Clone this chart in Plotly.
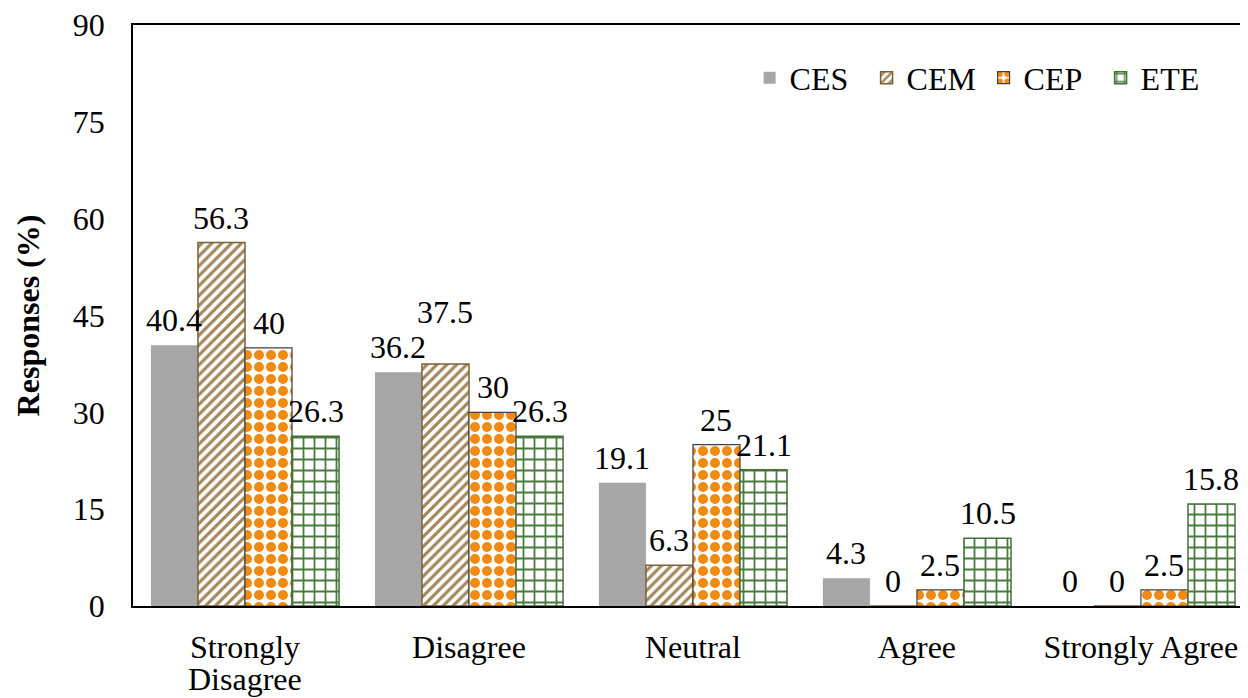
import plotly.graph_objects as go

categories = ["Strongly Disagree", "Disagree", "Neutral", "Agree", "Strongly Agree"]
ces = [40.4, 36.2, 19.1, 4.3, 0]
cem = [56.3, 37.5, 6.3, 0, 0]
cep = [40, 30, 25, 2.5, 2.5]
ete = [26.3, 26.3, 21.1, 10.5, 15.8]
y_ticks = [0, 15, 30, 45, 60, 75, 90]

FONT = "Liberation Serif, Times New Roman, serif"
FS = 32
BARGAP = 0.16
LABEL_LIFT = 25          # px between bar top and label centre
EXTRA_LIFT = {("CEM", 1): 52}  # label moved up to avoid overlapping neighbour
WRAPPED = {"Strongly Disagree": ("Strongly", "Disagree")}  # two-line category label
SECOND_LINE_DROP = 73    # px below axis for the second line (tight line spacing)

series = [
    ("CES", ces, dict(color="#A6A6A6", line=dict(color="#A6A6A6", width=0))),
    ("CEM", cem, dict(color="white", line=dict(color="#7A6038", width=1.5),
                      pattern=dict(shape="/", fgcolor="#A3865A", bgcolor="white", fgopacity=1,
                                   size=7, solidity=0.45, fillmode="replace"))),
    ("CEP", cep, dict(color="white", line=dict(color="#404040", width=1.2),
                      pattern=dict(shape=".", fgcolor="#F28A12", bgcolor="white", fgopacity=1,
                                   size=12, solidity=0.55, fillmode="replace"))),
    ("ETE", ete, dict(color="white", line=dict(color="#44703A", width=1.5),
                      pattern=dict(shape="+", fgcolor="#4A7A3E", bgcolor="white", fgopacity=1,
                                   size=11, solidity=0.3, fillmode="replace"))),
]

fig = go.Figure()
n = len(series)
slot = (1 - BARGAP) / n
xs = list(range(len(categories)))
for i, (name, vals, marker) in enumerate(series):
    fig.add_trace(go.Bar(name=name, x=xs, y=vals, marker=marker))
    for j, v in enumerate(vals):
        fig.add_annotation(
            x=j + (i - (n - 1) / 2) * slot, y=v, xref="x", yref="y",
            text=f"{v:g}", showarrow=False, yanchor="middle", xanchor="center",
            yshift=EXTRA_LIFT.get((name, j), LABEL_LIFT),
            font=dict(family=FONT, size=FS, color="black"),
        )

ticktext = []
for j, c in enumerate(categories):
    if c in WRAPPED:
        first, second = WRAPPED[c]
        ticktext.append(first)
        fig.add_annotation(
            x=j, y=0, xref="x", yref="paper", text=second, showarrow=False,
            xanchor="center", yanchor="middle", yshift=-SECOND_LINE_DROP,
            font=dict(family=FONT, size=FS, color="black"),
        )
    else:
        ticktext.append(c)

fig.update_layout(
    width=1240, height=690, autosize=False,
    margin=dict(l=125, r=0, t=17, b=92),
    paper_bgcolor="white", plot_bgcolor="white",
    barmode="group", bargap=BARGAP, bargroupgap=0,
    font=dict(family=FONT, size=FS, color="black"),
    legend=dict(orientation="h", x=0.553, y=0.909, xanchor="left", yanchor="middle",
                font=dict(family=FONT, size=FS, color="black"),
                bgcolor="rgba(0,0,0,0)", entrywidth=72, entrywidthmode="pixels",
                itemwidth=30),
)
fig.update_xaxes(
    tickmode="array", tickvals=xs, ticktext=ticktext,
    range=[-0.5, 4.478], showline=True, linecolor="black", linewidth=1.5,
    mirror=True, ticks="", showgrid=False, zeroline=False, automargin=False,
    tickfont=dict(family=FONT, size=FS, color="black"), ticklabelstandoff=12,
)
fig.update_yaxes(
    range=[0, 90], tickmode="array", tickvals=y_ticks,
    showline=True, linecolor="black", linewidth=1.5, mirror=False,
    ticks="", showgrid=False, zeroline=False, ticklabeloverflow="allow", automargin=False,
    tickfont=dict(family=FONT, size=FS, color="black"), ticklabelstandoff=20,
    title=dict(text="<b>Responses (%)</b>", font=dict(family=FONT, size=FS, color="black"), standoff=24),
)

fig.write_html("out.html")
